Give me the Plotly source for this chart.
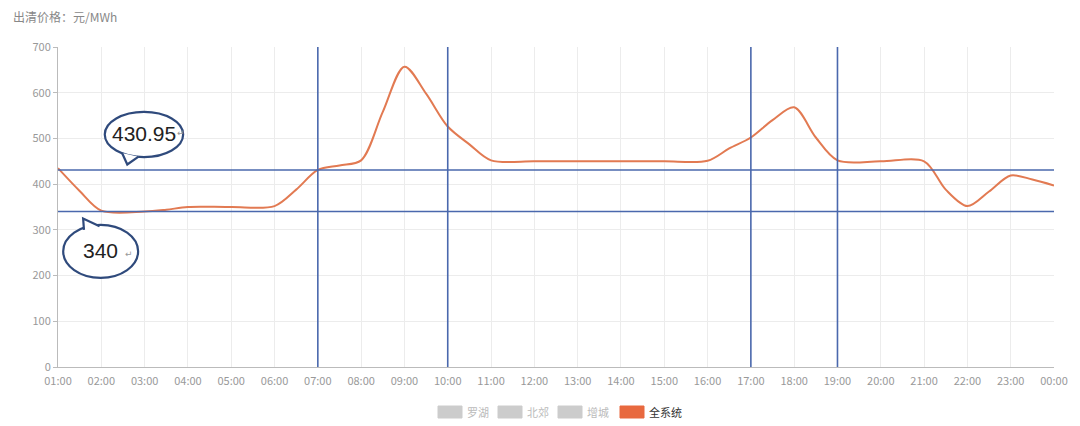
import plotly.graph_objects as go

hours = ["01:00", "02:00", "03:00", "04:00", "05:00", "06:00", "07:00", "08:00",
         "09:00", "10:00", "11:00", "12:00", "13:00", "14:00", "15:00", "16:00",
         "17:00", "18:00", "19:00", "20:00", "21:00", "22:00", "23:00", "00:00"]
times = ["01:00", "01:30", "02:00", "03:00", "03:30", "04:00", "05:00", "06:00", "06:30",
         "07:00", "07:30", "08:00", "08:30", "09:00", "09:30", "10:00", "10:30", "11:00",
         "12:00", "13:00", "14:00", "15:00", "16:00", "16:30", "17:00", "17:30", "18:00",
         "18:30", "19:00", "20:00", "21:00", "21:30", "22:00", "22:30", "23:00", "23:30",
         "00:00"]
price = [435, 385, 342, 340, 344, 350, 350, 352, 388,
         431, 441, 452, 558, 657, 598, 526, 487, 452,
         450, 450, 450, 450, 451, 478, 502, 540, 568,
         502, 452, 450, 450, 388, 352, 384, 419, 410,
         397]
ref_levels = [430.95, 340]
ref_hours = ["07:00", "10:00", "17:00", "19:00"]
legend_names = ["罗湖", "北郊", "增城", "全系统"]
legend_colors = ["#cccccc", "#cccccc", "#cccccc", "#e8693f"]
legend_text_colors = ["#bbbbbb", "#bbbbbb", "#bbbbbb", "#333333"]
y_ticks = [0, 100, 200, 300, 400, 500, 600, 700]

LINE = "#e27a52"
BLUE = "#4a68ad"
NAVY = "#2f4a7c"
FONT = "Noto Sans CJK SC, Noto Sans, sans-serif"


def hpos(label):
    h, m = label.split(":")
    v = (int(h) - 1) % 24 + int(m) / 60.0
    return v


n = len(hours)
fig = go.Figure()
fig.add_trace(go.Scatter(x=[hpos(t) for t in times], y=price, mode="lines",
                         line=dict(color=LINE, width=2, shape="spline", smoothing=0.9),
                         showlegend=False, hoverinfo="skip"))

shapes = []
for lv in ref_levels:
    shapes.append(dict(type="line", xref="x", yref="y", x0=0, x1=n - 1, y0=lv, y1=lv,
                       line=dict(color=BLUE, width=1.6), layer="above"))
for h in ref_hours:
    i = hpos(h)
    shapes.append(dict(type="line", xref="x", yref="y", x0=i, x1=i, y0=0, y1=708,
                       line=dict(color=BLUE, width=1.6), layer="above"))

# callout bubbles
shapes.append(dict(type="circle", xref="x", yref="y", x0=1.08, x1=2.89, y0=459, y1=558,
                   line=dict(color=NAVY, width=2.2), fillcolor="white", layer="above"))
shapes.append(dict(type="path", xref="x", yref="y",
                   path="M 1.48 468 L 1.6 443 L 1.86 460",
                   line=dict(color=NAVY, width=2.2), fillcolor="white", layer="above"))
shapes.append(dict(type="circle", xref="x", yref="y", x0=0.12, x1=1.85, y0=195, y1=311,
                   line=dict(color=NAVY, width=2.2), fillcolor="white", layer="above"))
shapes.append(dict(type="path", xref="x", yref="y",
                   path="M 0.6 300 L 0.58 325 L 0.96 308",
                   line=dict(color=NAVY, width=2.2), fillcolor="white", layer="above"))

annotations = [
    dict(x=1.98, y=510, xref="x", yref="y", text="430.95", showarrow=False,
         font=dict(family="Liberation Sans, Arial", size=21, color="#222222")),
    dict(x=2.84, y=512, xref="x", yref="y", text="↵", showarrow=False,
         font=dict(family="DejaVu Sans", size=9, color="#999999")),
    dict(x=0.97, y=254, xref="x", yref="y", text="340", showarrow=False,
         font=dict(family="Liberation Sans, Arial", size=21, color="#222222")),
    dict(x=1.63, y=248, xref="x", yref="y", text="↵", showarrow=False,
         font=dict(family="DejaVu Sans", size=9, color="#999999")),
    dict(x=(11 - 58) / 996, y=(367 - 6) / 320, xref="paper", yref="paper",
         text="出清价格：元/MWh", showarrow=False, xanchor="left", yanchor="top",
         font=dict(family=FONT, size=12, color="#888888")),
]

# legend (echarts style)
sw_x = [438, 498, 558, 620]
for k, name in enumerate(legend_names):
    shapes.append(dict(type="rect", xref="paper", yref="paper",
                       x0=(sw_x[k] - 58) / 996, x1=(sw_x[k] + 24 - 58) / 996,
                       y0=-(418 - 367) / 320, y1=-(406 - 367) / 320,
                       line=dict(color=legend_colors[k], width=1), fillcolor=legend_colors[k],
                       layer="above"))
    annotations.append(dict(x=(sw_x[k] + 27 - 58) / 996, y=-(412 - 367) / 320,
                            xref="paper", yref="paper", text=name, showarrow=False,
                            xanchor="left", yanchor="middle",
                            font=dict(family=FONT, size=11, color=legend_text_colors[k])))

fig.update_layout(
    width=1080, height=426,
    margin=dict(l=58, r=26, t=47, b=59),
    plot_bgcolor="white", paper_bgcolor="white",
    showlegend=False,
    shapes=shapes, annotations=annotations,
    xaxis=dict(range=[0, n - 1], tickmode="array", tickvals=[hpos(h) for h in hours],
               ticktext=hours, ticklabelstandoff=4,
               showgrid=True, gridcolor="#ececec", gridwidth=1,
               showline=True, linecolor="#bbbbbb", linewidth=1, zeroline=False,
               ticks="", tickfont=dict(family=FONT, size=11, color="#999999")),
    yaxis=dict(range=[0, 700], tickmode="array", tickvals=y_ticks,
               showgrid=True, gridcolor="#ececec", gridwidth=1,
               showline=True, linecolor="#bbbbbb", linewidth=1, zeroline=False,
               ticks="outside", ticklen=4, tickcolor="#bbbbbb",
               tickfont=dict(family=FONT, size=11, color="#999999")),
)

fig.write_html("out.html", config={"displayModeBar": False},
               post_script="document.body.style.margin='0';")
